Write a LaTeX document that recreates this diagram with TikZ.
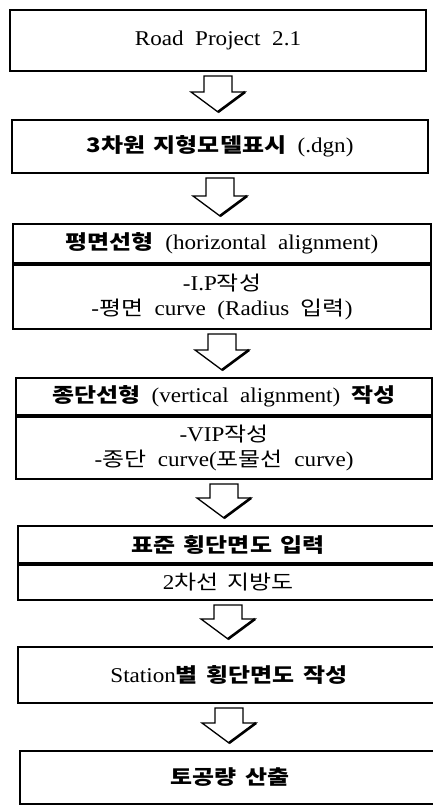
\documentclass[tikz,border=0pt]{standalone}
\usepackage{fontspec}
\setmainfont[FakeStretch=1.1,WordSpace={2}]{Liberation Serif}
\newfontfamily\kr[Scale=0.95,FakeStretch=1.2,WordSpace={1.6}]{Noto Sans CJK KR}
\usepackage{tikz}
\usetikzlibrary{calc}
\newcommand{\kb}[1]{{\kr\bfseries #1}}
\newcommand{\kn}[1]{{\kr #1}}

\begin{document}
\begin{tikzpicture}[x=1pt,y=-1pt,line join=miter,
  font=\fontsize{21pt}{25pt}\selectfont,
  stage/.style={draw,line width=2pt,inner sep=0pt,align=center},
  hollow/.style={draw,fill=white,line width=1.3pt}]
\useasboundingbox (0,0) rectangle (433,805);
% boxes, top to bottom
\node[stage,minimum width=416pt,minimum height=61pt] (proj) at (218,40.5) {Road Project 2.1};
\node[stage,minimum width=416pt,minimum height=53pt] (dgn) at (220,146.5) {\kb{3차원 지형모델표시} (.dgn)};
\node[stage,minimum width=418pt,minimum height=39pt] (hzhead) at (222,243.5) {\kb{평면선형} (horizontal alignment)};
\node[stage,minimum width=418pt,minimum height=64pt,anchor=north] (hzbody) at (hzhead.south) {-I.P\kn{작성}\\-\kn{평면} curve (Radius \kn{입력})};
\node[stage,minimum width=416pt,minimum height=37pt] (vthead) at (224,396.5) {\kb{종단선형} (vertical alignment) \kb{작성}};
\node[stage,minimum width=416pt,minimum height=62pt,anchor=north] (vtbody) at (vthead.south) {-VIP\kn{작성}\\-\kn{종단} curve(\kn{포물선} curve)};
\node[stage,minimum width=420pt,minimum height=37pt] (stdhead) at (228,544.5) {\kb{표준 횡단면도 입력}};
\node[stage,minimum width=420pt,minimum height=35pt,anchor=north] (stdbody) at (stdhead.south) {2\kn{차선 지방도}};
\node[stage,minimum width=422pt,minimum height=56pt] (stsec) at (229,675) {Station\kb{별 횡단면도 작성}};
\node[stage,minimum width=420pt,minimum height=53pt] (earth) at (230,777.5) {\kb{토공량 산출}};
% hollow block arrows between the stages
\foreach \a/\b in {proj/dgn,dgn/hzhead,hzbody/vthead,vtbody/stdhead,stdbody/stsec,stsec/earth}{
  \draw[hollow] let \p1=($(\a.south)+(0,4)$), \p2=($(\b.north)+(0,-7)$) in
    (\x1-14pt,\y1) -- (\x1+14pt,\y1) -- (\x1+14pt,\y2+20pt) -- (\x1+27pt,\y2+20pt)
    -- (\x1,\y2) -- (\x1-27pt,\y2+20pt) -- (\x1-14pt,\y2+20pt) -- cycle;
  \draw[line width=2.6pt] let \p1=($(\a.south)+(0,4)$), \p2=($(\b.north)+(0,-7)$) in
    (\x1+27pt,\y2+20pt) -- (\x1,\y2);
}
\end{tikzpicture}
\end{document}
